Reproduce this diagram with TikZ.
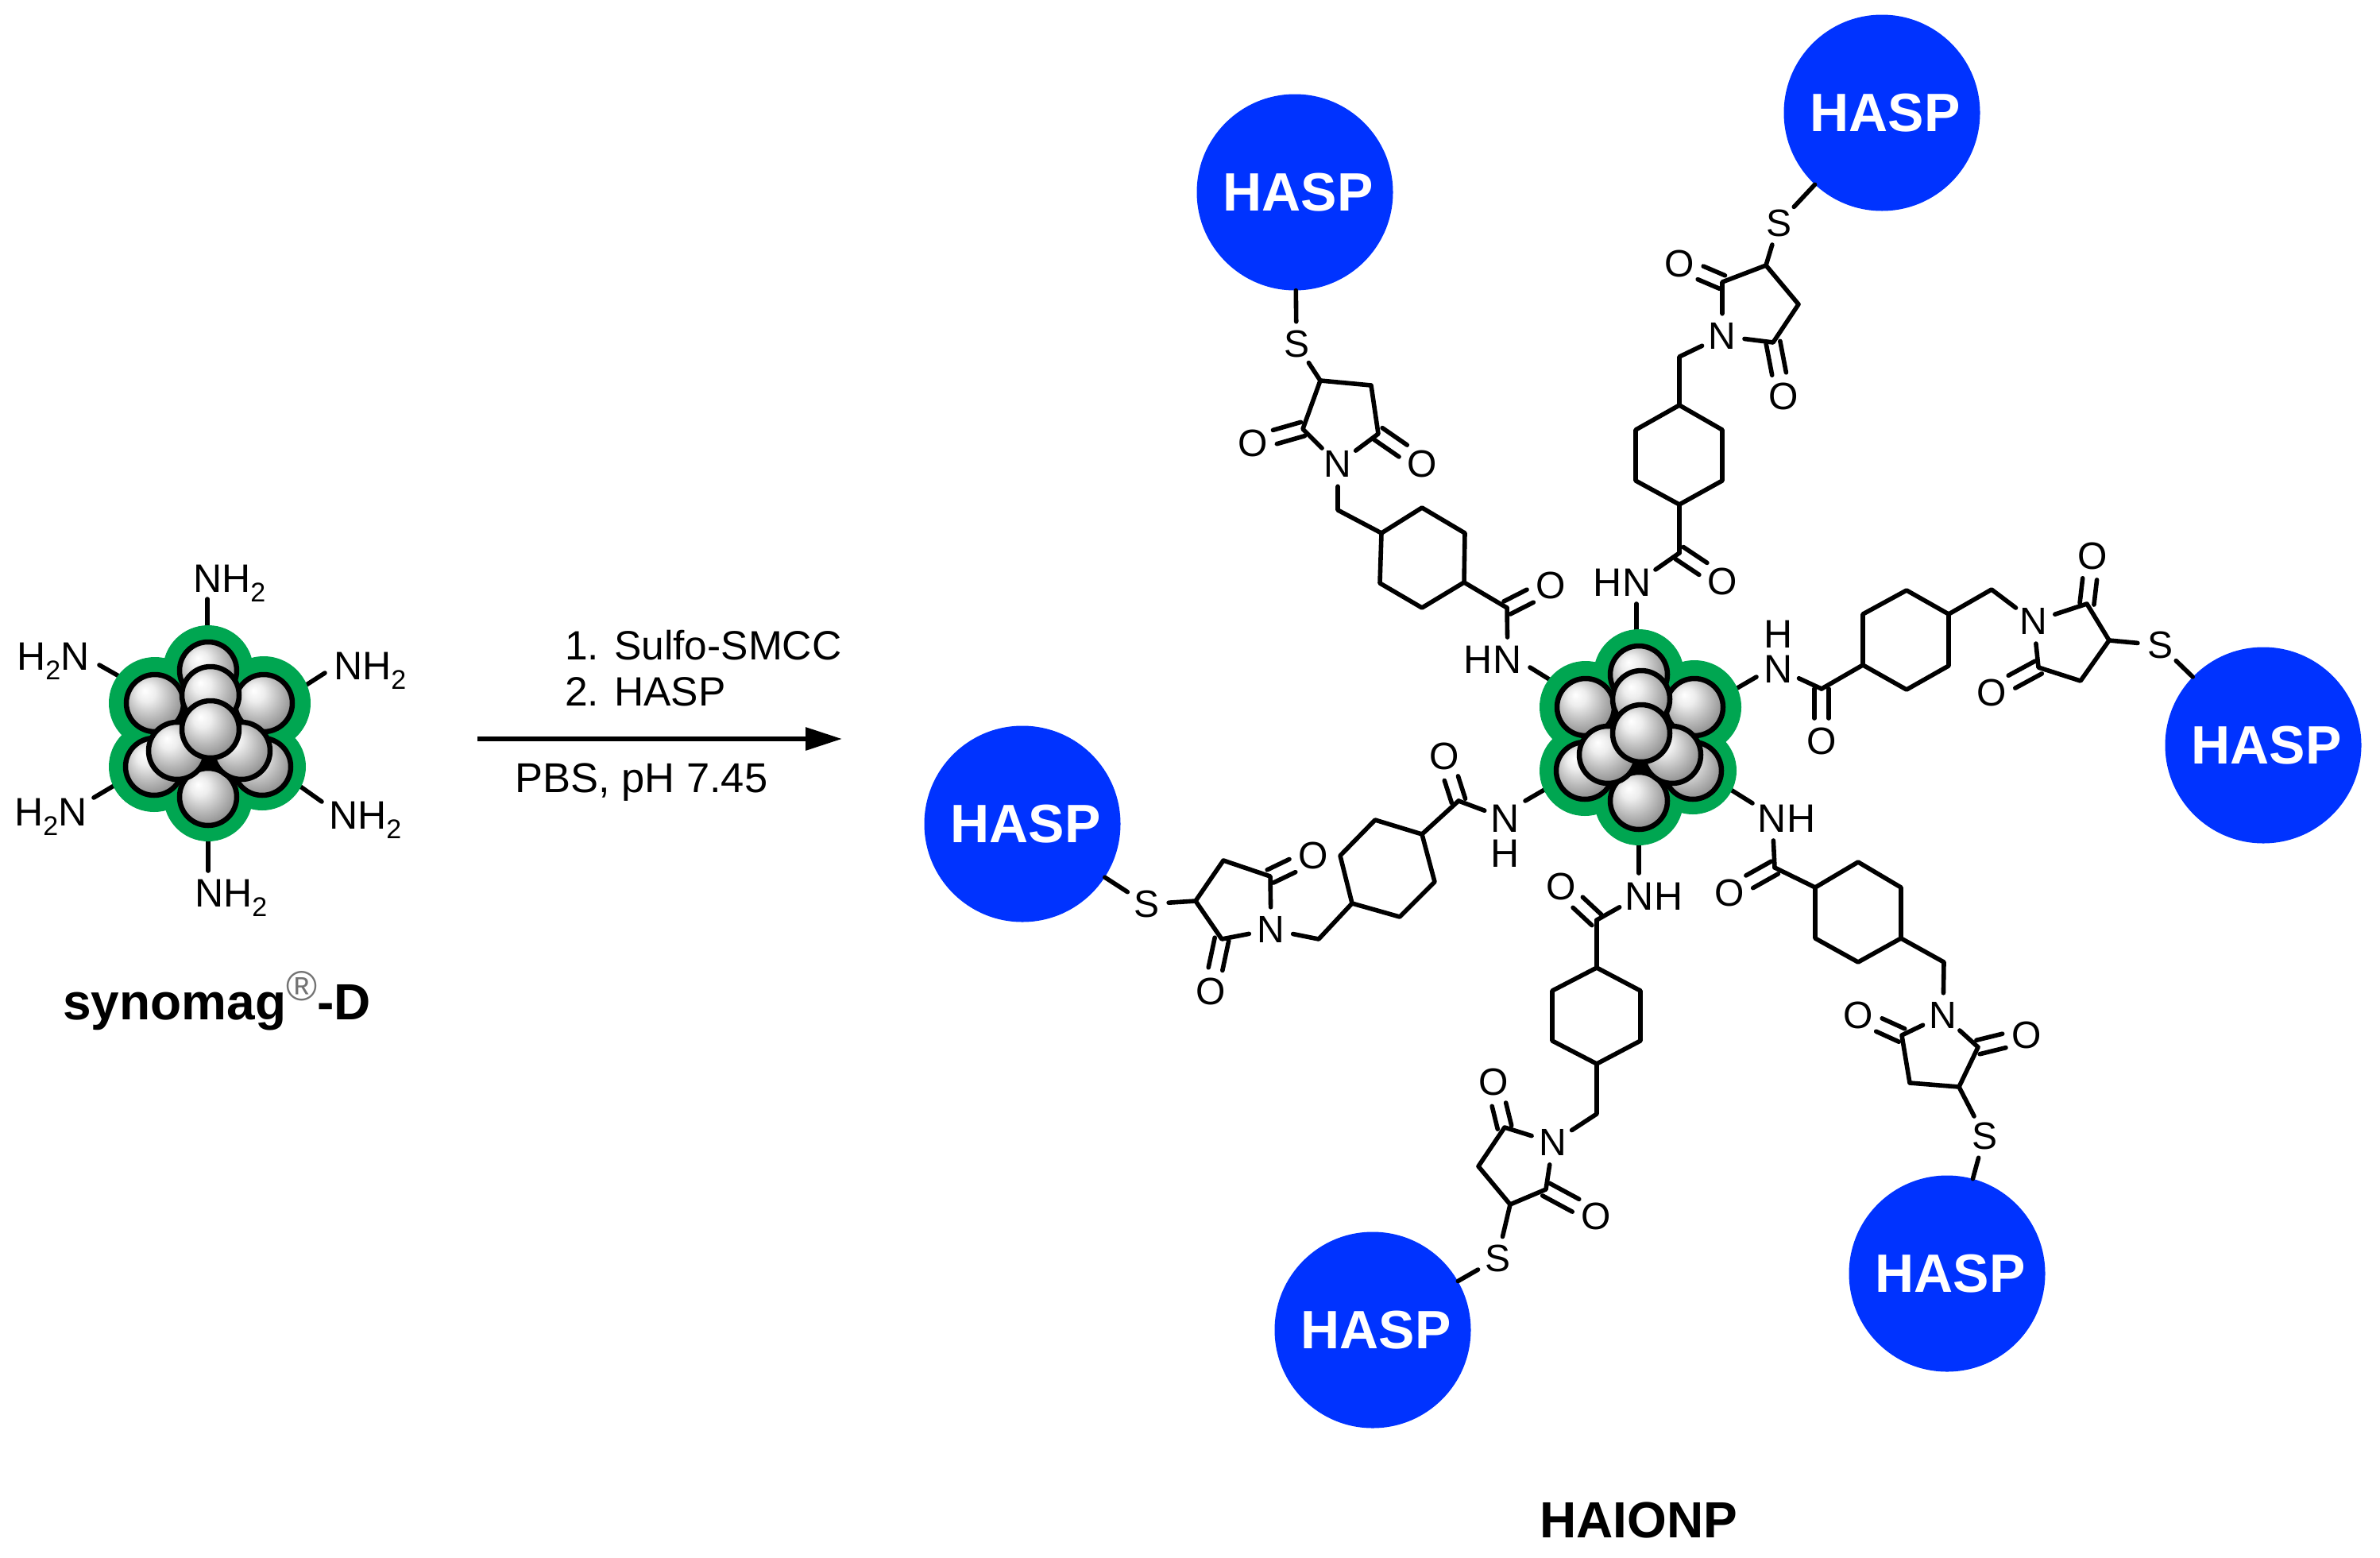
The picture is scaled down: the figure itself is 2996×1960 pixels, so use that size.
\documentclass[tikz,border=0pt]{standalone}
\usepackage{fontspec}
\setmainfont{Liberation Sans}
\usetikzlibrary{calc,arrows.meta}
\definecolor{haspblue}{RGB}{0,51,255}
\definecolor{coatgreen}{RGB}{0,166,81}
\pgfdeclareradialshading{ballshade}{\pgfpoint{-9bp}{11bp}}{rgb(0bp)=(1,1,1);rgb(8bp)=(.93,.93,.93);rgb(20bp)=(.72,.72,.72);rgb(32bp)=(.52,.52,.52);rgb(50bp)=(.26,.26,.26)}
\newcommand\sbtwo{\raisebox{-12pt}{\fontsize{34}{36}\selectfont 2}}
\tikzset{
  bond/.style={line width=5.6pt,line cap=round,line join=round,black},
  atom/.style={circle,inner sep=0pt,minimum size=56pt,font=\fontsize{48}{44}\selectfont},
  lab/.style={inner sep=0pt,align=center,font=\fontsize{50}{44}\selectfont},
  amine/.style={inner sep=0pt,anchor=base west,font=\fontsize{50}{44}\selectfont},
  reagent/.style={inner sep=0pt,anchor=base west,font=\fontsize{51.5}{54}\selectfont},
  title/.style={inner sep=0pt,font=\fontsize{64}{66}\selectfont\bfseries},
  hasp/.style={circle,fill=haspblue,minimum size=247pt,inner sep=0pt,text=white,font=\fontsize{68}{70}\selectfont\bfseries},
  ball/.style={shading=ballshade,draw=black,line width=6.5pt},
  core/.pic={
    \fill[coatgreen] (0,0) circle[radius=70];
    \foreach \px/\py/\pr in {-2/-79/57,-69/-38/58,68/-38/59,-70/42/57,66/42/55,-2/80/56}
      \fill[coatgreen] (\px,\py) circle[radius=\pr];
    \fill[black] (0,10) circle[radius=62];
    \foreach \px/\py in {-2/-79,-69/-38,68/-38,1/-48,-70/42,66/42,-2/80,-41/22,40/22,1/-5}
      \shadedraw[ball] (\px,\py) circle[radius=36];
  }
}
\newcommand\dbl[2]{%
  \draw[bond,shorten >=29pt] ($(#1)!9pt!90:(#2)$) -- ($(#2)!9pt!-90:(#1)$);
  \draw[bond,shorten >=29pt] ($(#1)!9pt!-90:(#2)$) -- ($(#2)!9pt!90:(#1)$);
}
\newcommand\armbonds[1]{%
  \draw[bond] (#1H) -- (#1S);
  \draw[bond] (#1S) -- (#1C3) -- (#1C4) -- (#1C5) -- (#1N);
  \draw[bond] (#1C3) -- (#1C2) -- (#1N);
  \dbl{#1C2}{#1O1}
  \dbl{#1C5}{#1O2}
  \draw[bond] (#1N) -- (#1CH) -- (#1R1);
  \draw[bond] (#1R1) -- (#1R2) -- (#1R3) -- (#1R4) -- (#1R5) -- (#1R6) -- cycle;
  \draw[bond] (#1R4) -- (#1Cam);
  \draw[bond,shorten >=28pt] (#1Cam) -- (#1Nc);
  \dbl{#1Cam}{#1Oam}
  \draw[bond] (#1Ne) -- (#1Ce);
}
\begin{document}
\begin{tikzpicture}[x=1pt,y=-1pt]
\useasboundingbox (0,0) rectangle (2996,1960);

% ---------- left particle ----------
\node[amine] (n1) at (243,745) {NH\sbtwo};
\node[amine] (n2) at (420,855) {NH\sbtwo};
\node[amine] (n3) at (21,843) {H\sbtwo N};
\node[amine] (n4) at (18,1039) {H\sbtwo N};
\node[amine] (n5) at (414,1043) {NH\sbtwo};
\node[amine] (n6) at (245,1141) {NH\sbtwo};
\coordinate (b1a) at (261,754); \coordinate (b1b) at (261,790);
\coordinate (b2a) at (409,847); \coordinate (b2b) at (381,865);
\coordinate (b3a) at (125,837); \coordinate (b3b) at (155,854);
\coordinate (b4a) at (118,1004); \coordinate (b4b) at (150,985);
\coordinate (b5a) at (405,1009); \coordinate (b5b) at (374,987);
\coordinate (b6a) at (262,1096); \coordinate (b6b) at (262,1055);
\foreach \i in {1,...,6} \draw[bond] (b\i a) -- (b\i b);
\pic (coreL) at (264,923) {core};
\node[title,anchor=base west] (synomag) at (79,1283) {synomag\raisebox{24pt}{\fontsize{53}{55}\selectfont\mdseries\textcolor{black!55}{®}}-D};

% ---------- arrow ----------
\node[reagent] (r1) at (711,830) {1. Sulfo-SMCC};
\node[reagent] (r2) at (711,888) {2. HASP};
\node[reagent,font=\fontsize{52.5}{54}\selectfont] (r3) at (648,997) {PBS, pH 7.45};
\coordinate (arrS) at (601,930);
\coordinate (arrE) at (1060,930);
\draw[line width=6pt,-{Triangle[length=46pt,width=28pt]}] (arrS) -- (arrE);

% ---------- arm A (upper left) ----------
\node[hasp] (aH) at (1630,242) {\hspace*{8pt}HASP};
\node[atom] (aS) at (1632,433) {S};
\node[atom] (aN) at (1684,584) {N};
\node[atom] (aO1) at (1577,558) {O};
\node[atom] (aO2) at (1790,584) {O};
\node[atom] (aOam) at (1952,737) {O};
\node[lab] (aL) at (1879,830) {HN};
\coordinate (aC3) at (1662,479); \coordinate (aC2) at (1640,540);
\coordinate (aC5) at (1735,546); \coordinate (aC4) at (1726,485);
\coordinate (aCH) at (1684,642);
\coordinate (aR1) at (1739,671); \coordinate (aR2) at (1790,639); \coordinate (aR3) at (1844,671);
\coordinate (aR4) at (1843,733); \coordinate (aR5) at (1790,765); \coordinate (aR6) at (1737,734);
\coordinate (aCam) at (1897,765); \coordinate (aNc) at (1898,830);
\coordinate (aNe) at (1926,840); \coordinate (aCe) at (1955,858);
\armbonds{a}

% ---------- arm B (top) ----------
\node[hasp] (bH) at (2369,142) {\hspace*{8pt}HASP};
\node[atom] (bS) at (2239,281) {S};
\node[atom] (bN) at (2168,423) {N};
\node[atom] (bO1) at (2114,332) {O};
\node[atom] (bO2) at (2245,499) {O};
\node[atom] (bOam) at (2168,732) {O};
\node[lab] (bL) at (2042,733) {HN};
\coordinate (bC3) at (2223,334); \coordinate (bC2) at (2168,355);
\coordinate (bC5) at (2232,431); \coordinate (bC4) at (2264,383);
\coordinate (bCH) at (2114,449);
\coordinate (bR1) at (2114,510); \coordinate (bR2) at (2059,541); \coordinate (bR3) at (2059,605);
\coordinate (bR4) at (2114,635); \coordinate (bR5) at (2168,605); \coordinate (bR6) at (2168,541);
\coordinate (bCam) at (2114,696); \coordinate (bNc) at (2061,733);
\coordinate (bNe) at (2060,760); \coordinate (bCe) at (2060,798);
\armbonds{b}

% ---------- arm C (right) ----------
\node[hasp] (cH) at (2849,938) {\hspace*{8pt}HASP};
\node[atom] (cS) at (2719,812) {S};
\node[atom] (cN) at (2560,782) {N};
\node[atom] (cO1) at (2634,700) {O};
\node[atom] (cO2) at (2507,872) {O};
\node[atom] (cOam) at (2293,933) {O};
\node[lab] (cL) at (2239,820) {H\\N};
\coordinate (cC3) at (2655,806); \coordinate (cC2) at (2627,760);
\coordinate (cC5) at (2566,840); \coordinate (cC4) at (2619,857);
\coordinate (cCH) at (2507,742);
\coordinate (cR1) at (2453,773); \coordinate (cR2) at (2400,743); \coordinate (cR3) at (2345,773);
\coordinate (cR4) at (2345,837); \coordinate (cR5) at (2400,868); \coordinate (cR6) at (2453,838);
\coordinate (cCam) at (2293,867); \coordinate (cNc) at (2239,842);
\coordinate (cNe) at (2211,852); \coordinate (cCe) at (2180,870);
\armbonds{c}

% ---------- arm D (lower right) ----------
\node[hasp] (dH) at (2451,1603) {\hspace*{8pt}HASP};
\node[atom] (dS) at (2498,1430) {S};
\node[atom] (dN) at (2446,1278) {N};
\node[atom] (dO1) at (2551,1303) {O};
\node[atom] (dO2) at (2339,1278) {O};
\node[atom] (dOam) at (2177,1124) {O};
\node[lab] (dL) at (2249,1030) {NH};
\coordinate (dC3) at (2466,1368); \coordinate (dC2) at (2490,1318);
\coordinate (dC5) at (2394,1303); \coordinate (dC4) at (2404,1363);
\coordinate (dCH) at (2447,1211);
\coordinate (dR1) at (2393,1181); \coordinate (dR2) at (2393,1117); \coordinate (dR3) at (2339,1085);
\coordinate (dR4) at (2285,1117); \coordinate (dR5) at (2285,1181); \coordinate (dR6) at (2339,1211);
\coordinate (dCam) at (2234,1092); \coordinate (dNc) at (2231,1030);
\coordinate (dNe) at (2206,1011); \coordinate (dCe) at (2174,991);
\armbonds{d}

% ---------- arm E (bottom) ----------
\node[hasp] (eH) at (1728,1674) {\hspace*{8pt}HASP};
\node[atom] (eS) at (1885,1584) {S};
\node[atom] (eN) at (1955,1438) {N};
\node[atom] (eO1) at (2009,1531) {O};
\node[atom] (eO2) at (1880,1362) {O};
\node[atom] (eOam) at (1965,1116) {O};
\node[lab] (eL) at (2082,1128) {NH};
\coordinate (eC3) at (1901,1516); \coordinate (eC2) at (1946,1497);
\coordinate (eC5) at (1894,1419); \coordinate (eC4) at (1861,1468);
\coordinate (eCH) at (2010,1402);
\coordinate (eR1) at (2010,1339); \coordinate (eR2) at (2065,1310); \coordinate (eR3) at (2065,1247);
\coordinate (eR4) at (2010,1218); \coordinate (eR5) at (1954,1247); \coordinate (eR6) at (1954,1310);
\coordinate (eCam) at (2010,1158); \coordinate (eNc) at (2063,1128);
\coordinate (eNe) at (2063,1099); \coordinate (eCe) at (2063,1058);
\armbonds{e}

% ---------- arm F (left) ----------
\node[hasp] (fH) at (1287,1037) {\hspace*{8pt}HASP};
\node[atom] (fS) at (1443,1138) {S};
\node[atom] (fN) at (1600,1170) {N};
\node[atom] (fO1) at (1524,1248) {O};
\node[atom] (fO2) at (1653,1077) {O};
\node[atom] (fOam) at (1818,952) {O};
\node[lab] (fL) at (1895,1052) {N\\H};
\coordinate (fC3) at (1505,1134); \coordinate (fC2) at (1538,1182);
\coordinate (fC5) at (1599,1103); \coordinate (fC4) at (1540,1083);
\coordinate (fCH) at (1660,1182);
\coordinate (fR1) at (1702,1137); \coordinate (fR2) at (1762,1154); \coordinate (fR3) at (1806,1110);
\coordinate (fR4) at (1790,1050); \coordinate (fR5) at (1731,1032); \coordinate (fR6) at (1687,1077);
\coordinate (fCam) at (1836,1008); \coordinate (fNc) at (1895,1030);
\coordinate (fNe) at (1920,1008); \coordinate (fCe) at (1951,990);
\armbonds{f}

\pic (coreR) at (2065,928) {core};
\node[title] (haionp) at (2063,1913) {HAIONP};
\end{tikzpicture}
\end{document}
